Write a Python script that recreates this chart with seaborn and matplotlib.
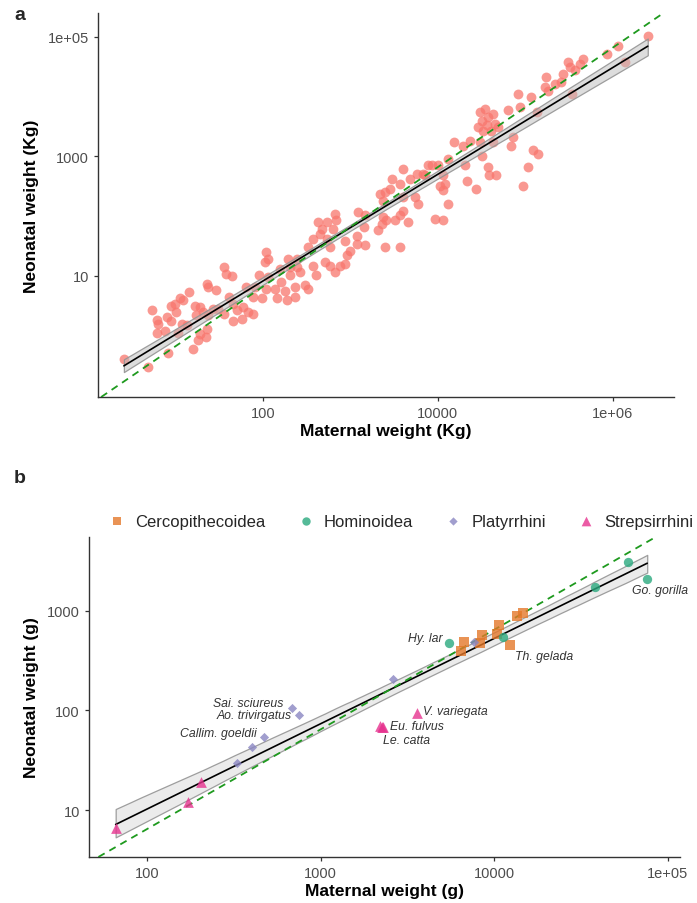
import numpy as np
import pandas as pd
import matplotlib
matplotlib.use("Agg")
import matplotlib.pyplot as plt
import seaborn as sns

# ---- panel a : all mammals, log10 of weights (Kg) ----
log_maternal_kg = [
    0.41, 0.69, 0.73, 0.79, 0.80, 0.79, 0.88, 0.90, 0.95, 0.95, 0.99, 1.01,
    1.05, 1.09, 1.15, 1.07, 1.13, 1.03, 0.91, 1.20, 1.26, 1.28, 1.35, 1.36,
    1.22, 1.28, 1.32, 1.24, 1.37, 1.43, 1.36, 1.37, 1.46, 1.55, 1.58, 1.65,
    1.61, 1.66, 1.70, 1.81, 1.89, 1.77, 1.83, 1.66, 1.76, 1.89, 1.55, 1.49,
    2.04, 2.06, 2.02, 1.95, 2.06, 1.91, 2.04, 2.19, 2.29, 2.39, 2.31, 2.39,
    2.42, 2.31, 2.21, 2.14, 2.25, 2.37, 2.48, 2.52, 2.16, 2.27, 2.37, 1.99,
    2.57, 2.61, 2.52, 2.57, 2.63, 2.67, 2.73, 2.65, 2.73, 2.82, 2.84, 2.80,
    2.77, 2.71, 2.77, 2.82, 2.88, 2.94, 2.94, 2.99, 2.96, 3.07, 3.07, 3.17,
    3.15, 3.09, 3.17, 3.32, 3.36, 3.39, 3.57, 3.37, 3.41, 3.51, 3.57, 3.60,
    3.66, 3.34, 3.39, 3.45, 3.37, 3.47, 3.57, 3.60, 3.74, 3.77, 3.60, 3.68,
    3.76, 3.83, 3.89, 3.85, 3.93, 4.00, 4.06, 4.12, 4.19, 4.29, 4.37, 4.48,
    4.63, 4.31, 4.50, 4.57, 4.59, 4.67, 4.33, 4.44, 4.02, 4.06, 4.08, 4.12,
    3.97, 4.06, 4.48, 4.54, 4.57, 4.63, 4.50, 4.46, 4.56, 4.65, 4.61, 4.52,
    4.69, 4.80, 4.94, 4.92, 5.07, 5.13, 4.86, 4.84, 5.09, 5.15, 5.03, 4.97,
    5.24, 5.22, 5.26, 5.34, 5.41, 5.43, 5.49, 5.51, 5.57, 5.62, 5.66, 5.53,
    5.93, 6.06, 6.14, 6.40,
]
log_neonatal_kg = [
    -0.39, -0.53, 0.42, 0.26, 0.20, 0.05, 0.08, 0.31, 0.25, 0.50, 0.53, 0.39,
    0.62, 0.59, 0.73, 0.20, 0.17, 0.05, -0.29, -0.22, -0.07, 0.03, -0.03, 0.11,
    0.50, 0.48, 0.39, 0.34, 0.34, 0.45, 0.87, 0.81, 0.77, 1.15, 1.03, 0.99,
    0.64, 0.53, 0.42, 0.81, 0.64, 0.48, 0.39, 0.25, 0.28, 0.36, 0.36, 0.45,
    1.40, 1.28, 1.23, 1.01, 0.98, 0.81, 0.78, 1.12, 1.28, 1.28, 1.15, 1.15,
    1.06, 1.01, 0.89, 0.78, 0.75, 0.81, 0.84, 0.78, 0.62, 0.59, 0.64, 0.62,
    1.17, 1.01, 1.48, 1.62, 1.90, 1.79, 1.90, 1.70, 1.62, 2.04, 1.93, 1.79,
    1.48, 1.23, 1.17, 1.06, 1.17, 1.20, 1.59, 1.42, 1.34, 1.54, 1.67, 1.51,
    1.82, 2.07, 2.01, 1.76, 1.87, 1.48, 1.48, 1.98, 1.93, 1.93, 2.01, 2.09,
    1.90, 2.37, 2.40, 2.46, 2.26, 2.62, 2.54, 2.32, 2.32, 2.21, 2.79, 2.62,
    2.71, 2.71, 2.85, 2.68, 2.85, 2.85, 2.68, 2.96, 3.24, 3.18, 3.26, 3.24,
    3.24, 2.85, 3.01, 2.82, 2.68, 2.68, 2.59, 2.46, 2.51, 2.43, 2.54, 2.21,
    1.95, 1.93, 3.74, 3.79, 3.66, 3.71, 3.60, 3.49, 3.52, 3.54, 3.43, 3.43,
    3.49, 3.77, 3.82, 4.05, 3.99, 3.74, 3.32, 3.17, 3.10, 3.04, 2.82, 2.51,
    4.33, 4.16, 4.10, 4.21, 4.24, 4.38, 4.58, 4.49, 4.44, 4.55, 4.63, 4.05,
    4.72, 4.85, 4.58, 5.02,
]

# ---- panel b : primates (g) ----
groups = (["Cercopithecoidea"] * 9 + ["Hominoidea"] * 5
          + ["Platyrrhini"] * 7 + ["Strepsirrhini"] * 7)
maternal_g = [6460, 6700, 8500, 8300, 10700, 10400, 12300, 13500, 14700,
              5500, 11200, 38000, 59000, 76000,
              330, 400, 470, 680, 750, 2600, 7600,
              66, 172, 205, 2300, 2200, 3600, 2250]
neonatal_g = [395, 485, 570, 480, 720, 580, 450, 890, 940,
              470, 540, 1730, 3070, 2090,
              30, 43, 54, 107, 89, 205, 490,
              6.6, 12, 19, 68, 70, 95, 69]
species = ["", "", "", "", "", "", "Th. gelada", "", "",
           "Hy. lar", "", "", "", "Go. gorilla",
           "", "", "Callim. goeldii", "Sai. sciureus", "Ao. trivirgatus", "", "",
           "", "", "", "Eu. fulvus", "", "V. variegata", "Le. catta"]

group_order = ["Cercopithecoidea", "Hominoidea", "Platyrrhini", "Strepsirrhini"]
group_colours = {"Cercopithecoidea": "#E4782A", "Hominoidea": "#2BA97F",
                 "Platyrrhini": "#8A86C2", "Strepsirrhini": "#E6338F"}
group_markers = {"Cercopithecoidea": "s", "Hominoidea": "o",
                 "Platyrrhini": "D", "Strepsirrhini": "^"}
group_sizes = {"Cercopithecoidea": 45, "Hominoidea": 45,
               "Platyrrhini": 22, "Strepsirrhini": 60}
# label placement: (dx, dy) in points, horizontal alignment
label_pos = {"Th. gelada": (4, -8, "left"), "Hy. lar": (-5, 4, "right"),
             "Go. gorilla": (-11, -8, "left"), "V. variegata": (4, 1, "left"),
             "Eu. fulvus": (5, 1, "left"), "Le. catta": (1, -10, "left"),
             "Sai. sciureus": (-6, 3, "right"), "Ao. trivirgatus": (-5, 0, "right"),
             "Callim. goeldii": (-5, 3, "right")}

sns.set_style("ticks")
plt.rcParams["font.family"] = ["Liberation Sans", "DejaVu Sans"]
plt.rcParams["axes.edgecolor"] = "#333333"
plt.rcParams["xtick.color"] = "#333333"
plt.rcParams["ytick.color"] = "#333333"
plt.rcParams["xtick.labelcolor"] = "#4D4D4D"
plt.rcParams["ytick.labelcolor"] = "#4D4D4D"


def fit_line(ax, x, y, face_alpha):
    sns.regplot(x=x, y=y, ax=ax, scatter=False, ci=95, seed=3,
                color="black", line_kws={"lw": 1.2, "zorder": 4})
    band = ax.collections[-1]
    band.set_alpha(None)
    band.set_facecolor((0.74, 0.74, 0.74, face_alpha))
    band.set_edgecolor((0.58, 0.58, 0.58, 0.9))
    band.set_linewidth(0.9)
    band.set_zorder(3)


def style_axis(ax, xlab, ylab):
    sns.despine(ax=ax)
    ax.set_xlabel(xlab, fontsize=12.5, fontweight="bold", color="black", labelpad=2)
    ax.set_ylabel(ylab, fontsize=12.5, fontweight="bold", color="black", labelpad=6)
    ax.tick_params(labelsize=10.5, length=3, width=0.9)
    for s in ax.spines.values():
        s.set_linewidth(1.0)


fig = plt.figure(figsize=(6.97, 9.04), dpi=100)

# ---------------- panel a ----------------
ax1 = fig.add_axes([0.1406, 0.5597, 0.8264, 0.4248])
sns.scatterplot(x=log_maternal_kg, y=log_neonatal_kg, ax=ax1, color="#F8766D",
                alpha=0.75, s=50, linewidth=0, zorder=2)
fit_line(ax1, np.array(log_maternal_kg), np.array(log_neonatal_kg), 0.5)
ax1.axline((0, -1.18), slope=1, color="#1E9A1E", ls=(0, (4, 3)), lw=1.3, zorder=5)
ax1.set_xlim(0.114, 6.7)
ax1.set_ylim(-1.03, 5.4)
ax1.set_xticks([2, 4, 6])
ax1.set_xticklabels(["100", "10000", "1e+06"])
ax1.set_yticks([1, 3, 5])
ax1.set_yticklabels(["10", "1000", "1e+05"])
style_axis(ax1, "Maternal weight (Kg)", "Neonatal weight (Kg)")

# ---------------- panel b ----------------
prim = pd.DataFrame({"group": groups, "maternal": maternal_g,
                     "neonatal": neonatal_g, "species": species})
prim["lx"] = np.log10(prim["maternal"])
prim["ly"] = np.log10(prim["neonatal"])

ax2 = fig.add_axes([0.1277, 0.0509, 0.848, 0.354])
fit_line(ax2, prim["lx"].values, prim["ly"].values, 0.3)
ax2.axline((0, -1.19), slope=1, color="#1E9A1E", ls=(0, (4, 3)), lw=1.3, zorder=5)
for g in group_order:
    sub = prim[prim["group"] == g]
    sns.scatterplot(data=sub, x="lx", y="ly", ax=ax2, color=group_colours[g],
                    marker=group_markers[g], s=group_sizes[g], alpha=0.8,
                    linewidth=0, label=g, zorder=6)
for _, r in prim[prim["species"] != ""].iterrows():
    dx, dy, ha = label_pos[r["species"]]
    ax2.annotate(r["species"], (r["lx"], r["ly"]), xytext=(dx, dy),
                 textcoords="offset points", ha=ha, va="center",
                 fontsize=8.8, style="italic", color="#333333", zorder=7)
ax2.set_xlim(1.666, 5.07)
ax2.set_ylim(0.53, 3.74)
ax2.set_xticks([2, 3, 4, 5])
ax2.set_xticklabels(["100", "1000", "10000", "1e+05"])
ax2.set_yticks([1, 2, 3])
ax2.set_yticklabels(["10", "100", "1000"])
style_axis(ax2, "Maternal weight (g)", "Neonatal weight (g)")
ax2.legend(loc="lower center", bbox_to_anchor=(0.528, 1.0), ncol=4, frameon=False,
           fontsize=12, handlelength=1.0, handletextpad=0.6, columnspacing=1.9,
           markerscale=0.9, borderaxespad=0.1)

fig.text(0.02, 0.983, "a", fontsize=14, fontweight="bold", va="center")
fig.text(0.02, 0.471, "b", fontsize=14, fontweight="bold", va="center")

fig.savefig("out.png", dpi=100)
